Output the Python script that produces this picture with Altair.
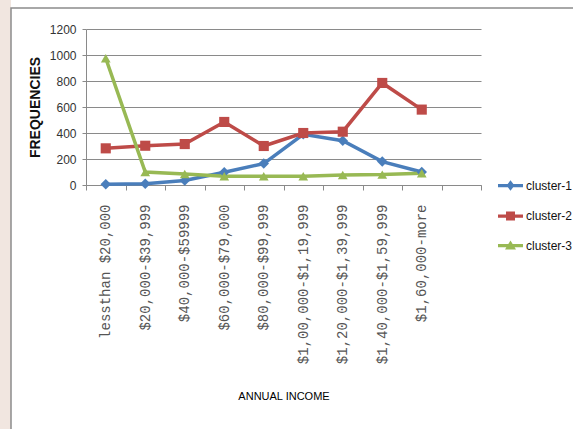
import altair as alt
import pandas as pd

# Annual income bands (x categories); the last slot of the axis is left empty
income_bands = [
    "lessthan $20,000",
    "$20,000-$39,999",
    "$40,000-$59999",
    "$60,000-$79,000",
    "$80,000-$99,999",
    "$1,00,000-$1,19,999",
    "$1,20,000-$1,39,999",
    "$1,40,000-$1,59,999",
    "$1,60,000-more",
]
empty_slot = [" "]

# Frequencies per cluster
cluster_1 = [5, 10, 35, 98, 165, 390, 340, 180, 100]
cluster_2 = [282, 302, 315, 485, 300, 400, 410, 785, 580]
cluster_3 = [975, 100, 85, 68, 68, 68, 77, 80, 90]

series_names = ["cluster-1", "cluster-2", "cluster-3"]
series_colors = ["#4a7ebb", "#be4b48", "#98b954"]
y_ticks = [0, 200, 400, 600, 800, 1000, 1200]

rows = []
for name, values in zip(series_names, [cluster_1, cluster_2, cluster_3]):
    for order, (band, v) in enumerate(zip(income_bands, values)):
        rows.append({"band": band, "order": order, "cluster": name, "freq": v})
df = pd.DataFrame(rows)

SANS = "Liberation Sans, Arial, sans-serif"
GRID = "#8a8a8a"

x_enc = alt.X(
    "band:N",
    scale=alt.Scale(type="band", domain=income_bands + empty_slot,
                    paddingInner=0, paddingOuter=0),
    sort=None,
    axis=alt.Axis(
        title="ANNUAL INCOME",
        titleFont=SANS, titleFontSize=11, titleFontWeight="normal",
        titleColor="#000000", titlePadding=27,
        labelAngle=270, labelFont="Liberation Mono, DejaVu Sans Mono, monospace",
        labelFontSize=14, labelColor="#555555", labelPadding=14,
        labelOverlap=False, labelLimit=300,
        tickBand="extent", tickSize=5, tickColor=GRID,
        domainColor=GRID, grid=False,
    ),
)
y_enc = alt.Y(
    "freq:Q",
    scale=alt.Scale(domain=[0, 1200], nice=False, zero=True),
    axis=alt.Axis(
        title="FREQUENCIES",
        titleFont=SANS, titleFontSize=14,
        titleFontWeight="bold", titleColor="#111111", titlePadding=7,
        values=y_ticks, format="d", labelFont=SANS, labelFontSize=12,
        labelColor="#333333", labelPadding=6,
        tickSize=4, tickColor=GRID, domainColor=GRID,
        grid=True, gridColor=GRID, gridWidth=1,
    ),
)

color_scale = alt.Scale(domain=series_names, range=series_colors)

lines = alt.Chart(df).mark_line(strokeWidth=3.5).encode(
    x=x_enc,
    y=y_enc,
    color=alt.Color("cluster:N", scale=color_scale, legend=None),
    order="order:Q",
)

points = alt.Chart(df).mark_point(filled=True, opacity=1).encode(
    x=x_enc,
    y=y_enc,
    color=alt.Color("cluster:N", scale=color_scale, legend=None),
    shape=alt.Shape(
        "cluster:N",
        scale=alt.Scale(domain=series_names,
                        range=["diamond", "square", "triangle-up"]),
        legend=None,
    ),
    size=alt.Size(
        "cluster:N",
        scale=alt.Scale(domain=series_names, range=[110, 95, 130]),
        legend=None,
    ),
)

# Legend symbols: a line segment with the series marker on it
legend_paths = [
    "M-1,-0.13H1V0.13H-1Z M0,-0.42L0.32,0L0,0.42L-0.32,0Z",
    "M-1,-0.13H1V0.13H-1Z M-0.36,-0.36H0.36V0.36H-0.36Z",
    "M-1,-0.13H1V0.13H-1Z M0,-0.4L0.44,0.32L-0.44,0.32Z",
]
legend_opts = dict(title=None, orient="none", legendX=411, legendY=143,
                   symbolSize=625, rowPadding=8.5, labelOffset=2,
                   labelFont=SANS, labelFontSize=12, labelLimit=200,
                   labelColor="#111111", symbolOpacity=1)
legend_layer = alt.Chart(df).transform_filter("false").mark_point(
    filled=True, opacity=1
).encode(
    x=x_enc,
    y=y_enc,
    color=alt.Color("cluster:N", scale=color_scale,
                    legend=alt.Legend(**legend_opts)),
    shape=alt.Shape(
        "cluster:N",
        scale=alt.Scale(domain=series_names, range=legend_paths),
        legend=alt.Legend(**legend_opts),
    ),
)

# Page margin strip and the chart frame
deco = pd.DataFrame({"part": [0]})
strip = alt.Chart(deco).mark_rect(color="#f1e6e0").encode(
    x=alt.value(-86), x2=alt.value(-75), y=alt.value(-29), y2=alt.value(420)
)
frame = alt.Chart(deco).mark_rect(
    fill="transparent", stroke="#8c8c8c", strokeWidth=1.5
).encode(
    x=alt.value(-75), x2=alt.value(520), y=alt.value(-21), y2=alt.value(440)
)

chart = alt.layer(strip, frame, lines, points, legend_layer).resolve_scale(
    color="independent", shape="independent", size="independent"
).properties(
    width=395,
    height=156,
    padding={"left": 86, "top": 29, "right": 92, "bottom": 244},
    autosize=alt.AutoSizeParams(type="none"),
    background="#ffffff",
).configure_view(strokeWidth=0)

chart.save("out.html", embed_options={"renderer": "svg", "actions": False})
